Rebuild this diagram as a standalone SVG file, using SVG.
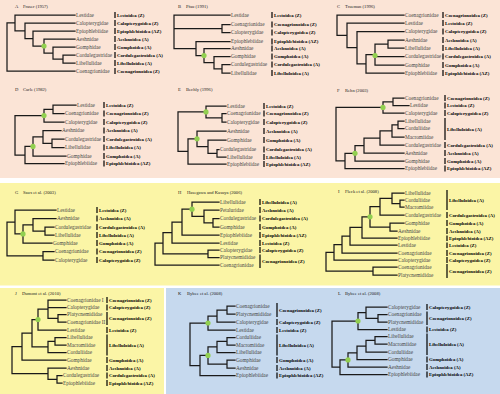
<svg xmlns="http://www.w3.org/2000/svg" width="500" height="394" viewBox="0 0 500 394">
<style>
.pk{fill:#fbe4d6}.yl{fill:#fbf5a6}.bl{fill:#c6d9ee}
.t{font-family:"Liberation Serif",serif;font-size:5.3px;fill:#474747}
.s{font-family:"Liberation Serif",serif;font-size:4.8px;font-weight:bold;fill:#000}
.h{font-family:"Liberation Serif",serif;font-size:4.6px;fill:#222}
.tree{fill:none;stroke:#1a1a1a;stroke-width:1.25;stroke-linecap:square}
.bar{fill:none;stroke:#000;stroke-width:1.2}
.dot{fill:#92d050}
</style>
<g id="backgrounds">
<rect class="pk" x="0" y="0" width="500" height="178"/>
<rect class="yl" x="0" y="183" width="500" height="102.5"/>
<rect class="yl" x="0" y="288" width="164" height="106"/>
<rect class="bl" x="166" y="288" width="334" height="106"/>
</g>
<g id="connectors">
<path id="tree-A" class="tree" d="M7 22.9V71M7 22.9H15M7 71H75M15 15V30.75M15 15H75M15 30.75H25M25 23V38.5M25 23H75M25 38.5H33M33 31V46M33 31H75M33 46H44M44 39V53M44 39H75M44 53H53M53 47V59M53 47H75M53 59H63M63 55V63M63 55H75M63 63H75"/>
<path id="tree-B" class="tree" d="M174 15V48.5M174 15H230M174 28.5H222M174 48.5H196M222 24.5V32.5M222 24.5H230M222 32.5H230M196 41.5V55.6M196 41.5H230M196 55.6H204M204 48.5V62.6M204 48.5H230M204 62.6H214M214 56.5V68.75M214 56.5H230M214 68.75H222M222 64.5V73M222 64.5H230M222 73H230"/>
<path id="tree-C" class="tree" d="M337 15V35.3M337 15H404M337 35.3H347M347 23V47.6M347 23H404M347 47.6H357M357 31.5V63.75M357 31.5H404M357 63.75H366M366 54.5V73M366 54.5H375M366 73H404M375 44V65M375 44H388M375 56.5H404M375 65H404M388 40V48M388 40H404M388 48H404"/>
<path id="tree-D" class="tree" d="M15 115.6V155M15 115.6H44M15 155H25M44 109.25V122M44 109.25H53M44 122H64M53 105V113.5M53 105H76M53 113.5H64M25 146.4V163.5M25 146.4H33M25 163.5H64M33 136.9V156M33 136.9H43M33 156H66M43 130.5V143.25M43 130.5H61M43 143.25H52M52 139V147.5M52 139H64M52 147.5H64"/>
<path id="tree-E" class="tree" d="M178 111.9V151.4M178 111.9H206M178 151.4H188M206 106V117.75M206 106H226M206 117.75H222M222 113.5V122M222 113.5H226M222 122H226M188 138.8V164M188 138.8H197M188 164H226M197 131V146.6M197 131H226M197 146.6H208M208 140V153.25M208 140H226M208 153.25H217M217 149.5V157M217 149.5H219M217 157H226"/>
<path id="tree-F" class="tree" d="M336 107.4V160.9M336 107.4H383M336 160.9H345M383 101.75V113M383 101.75H393M383 113H404M393 98V105.5M393 98H404M393 105.5H409M345 153.25V168.5M345 153.25H355M345 168.5H404M355 145.5V161M355 145.5H364M355 161H404M364 138V153M364 138H380M364 153H404M380 130.9V145M380 130.9H392M380 145H404M392 124.75V137M392 124.75H398M392 137H404M398 121V128.5M398 121H404M398 128.5H404"/>
<path id="tree-G" class="tree" d="M7 222V255.75M7 222H15M7 255.75H43M15 210V233.9M15 210H56M15 233.9H23M23 224.75V243M23 224.75H33M23 243H52M33 218.5V231M33 218.5H56M33 231H45M45 227V235M45 227H54M45 235H54M43 251.5V260M43 251.5H54M43 260H54"/>
<path id="tree-H" class="tree" d="M155 243.2V265M155 243.2H163M155 265H219M163 232.6V253.75M163 232.6H172M163 253.75H208M208 250V257.5M208 250H219M208 257.5H219M172 222.1V243M172 222.1H182M172 243H219M182 209.2V235M182 209.2H192M182 235H219M192 202V216.4M192 202H219M192 216.4H204M204 210V222.75M204 210H219M204 222.75H213M213 218.5V227M213 218.5H219M213 227H219"/>
<path id="tree-I" class="tree" d="M326 252.3V271M326 252.3H334M326 271H373M373 267V275M373 267H397M373 275H397M334 244.6V260M334 244.6H342M334 260H397M342 236.2V253M342 236.2H350M342 253H397M350 227.4V245M350 227.4H362M350 245H397M362 216.8V238M362 216.8H370M362 238H397M370 206.6V227M370 206.6H380M370 227H390M390 223V231M390 223H404M390 231H397M380 198.25V215M380 198.25H392M380 215H404M392 193V203.5M392 193H404M392 203.5H400M400 200V207M400 200H404M400 207H404"/>
<path id="tree-J" class="tree" d="M12 346.6V373.6M12 346.6H22M12 373.6H48M22 333.2V360M22 333.2H32M22 360H66M32 319.5V346.9M32 319.5H38M32 346.9H48M38 309V330M38 309H48M38 330H66M48 300V318.25M48 300H66M48 307.5H66M48 318.25H58M58 314.5V322M58 314.5H66M58 322H66M48 341.25V352.5M48 341.25H55M48 352.5H66M55 337.5V345M55 337.5H66M55 345H66M48 368V379.25M48 368H66M48 379.25H57M57 375.5V383M57 375.5H62M57 383H62"/>
<path id="tree-K" class="tree" d="M190 323V365.5M190 323H208M190 365.5H200M208 316V330M208 316H217M208 330H235M217 310V322M217 310H227M217 322H235M227 306V314M227 306H235M227 314H235M200 355.4V375.5M200 355.4H208M200 375.5H235M208 346.9V364M208 346.9H217M208 364H227M227 360V368M227 360H235M227 368H235M217 341.25V352.5M217 341.25H227M217 352.5H235M227 337.5V345M227 337.5H235M227 345H235"/>
<path id="tree-L" class="tree" d="M332 321V367.2M332 321H358M332 367.2H340M358 312.6V329.5M358 312.6H366M358 329.5H387M366 307V318.25M366 307H387M366 318.25H378M378 314.5V322M378 314.5H387M378 322H387M340 359.9V374.5M340 359.9H348M340 374.5H387M348 352.8V367M348 352.8H357M348 367H387M357 346.1V359.5M357 346.1H366M357 359.5H387M366 340.25V352M366 340.25H375M366 352H387M375 336.5V344M375 336.5H387M375 344H387"/>
</g>
<g id="node-markers">
<circle class="dot" cx="44" cy="46" r="2.6"/>
<circle class="dot" cx="204" cy="55.6" r="2.6"/>
<circle class="dot" cx="375" cy="55.5" r="2.6"/>
<circle class="dot" cx="44" cy="115.6" r="2.6"/>
<circle class="dot" cx="33" cy="146.4" r="2.6"/>
<circle class="dot" cx="206" cy="111.9" r="2.6"/>
<circle class="dot" cx="197" cy="138.8" r="2.6"/>
<circle class="dot" cx="383" cy="107.4" r="2.6"/>
<circle class="dot" cx="355" cy="153.25" r="2.6"/>
<circle class="dot" cx="23" cy="233.9" r="2.6"/>
<circle class="dot" cx="192" cy="209.2" r="2.6"/>
<circle class="dot" cx="370" cy="216.8" r="2.6"/>
<circle class="dot" cx="38" cy="319.5" r="2.6"/>
<circle class="dot" cx="208" cy="323" r="2.6"/>
<circle class="dot" cx="208" cy="355.4" r="2.6"/>
<circle class="dot" cx="358" cy="321" r="2.6"/>
<circle class="dot" cx="348" cy="359.9" r="2.6"/>
</g>
<g id="brackets">
<path class="bar" d="M115 12V18M115 20V26M115 28V34M115 36V42M115 44V50M115 52V58M115 60V66M115 68V74"/>
<path class="bar" d="M272 12V18M272 21.5V27.5M272 29.5V35.5M272 38.5V44.5M272 45.5V51.5M272 53.5V59.5M272 61.5V67.5M272 70V76"/>
<path class="bar" d="M443 12V18M443 20V26M443 28.5V34.5M443 37V43M443 45V51M443 53.5V59.5M443 62V68M443 70V76"/>
<path class="bar" d="M104 102V108M104 110.5V116.5M104 119V125M104 127.5V133.5M104 136V142M104 144.5V150.5M104 153V159M104 160.5V166.5"/>
<path class="bar" d="M264 103V109M264 110.5V116.5M264 119V125M264 128V134M264 137V143M264 146.5V152.5M264 154V160M264 161V167"/>
<path class="bar" d="M445 95V101M445 102.5V108.5M445 110V116M445 118V140M445 142V148M445 150V156M445 158V164M445 165.5V171.5"/>
<path class="bar" d="M97 207V213M97 215.5V221.5M97 224V230M97 232V238M97 240V246M97 248.5V254.5M97 257V263"/>
<path class="bar" d="M260 199V205M260 207V213M260 215.5V221.5M260 224V230M260 232V238M260 240V246M260 247V253M260 254.5V268"/>
<path class="bar" d="M447 190V210M447 212V218M447 220V226M447 228V234M447 235.5V241M447 242.5V248M447 250V256M447 257V263M447 264V278"/>
<path class="bar" d="M107 297V303M107 304.5V310.5M107 312V325M107 327V333M107 334.5V355.5M107 357V363M107 365V371M107 372.5V378.5M107 380V386"/>
<path class="bar" d="M277 303V317M277 319V325M277 327V333M277 334.5V355.5M277 357V363M277 365V371M277 372.5V378.5"/>
<path class="bar" d="M427 304V310M427 311.5V325M427 326.5V332.5M427 333.5V355M427 356.5V362.5M427 364V370M427 371.5V377.5"/>
</g>
<g id="panel-A">
<text class="h" x="15" y="7.8">A</text><text class="h" x="23" y="7.8">Fraser (1957)</text>
<g id="A1"><text class="t" x="76" y="16.8">Lestidae</text><text class="s" x="117" y="16.6">Lestoidea (Z)</text></g>
<g id="A2"><text class="t" x="76" y="24.8">Calopterygidae</text><text class="s" x="117" y="24.6">Calopterygoidea (Z)</text></g>
<g id="A3"><text class="t" x="76" y="32.8">Epiophlebiidae</text><text class="s" x="117" y="32.6">Epiophlebioidea (AZ)</text></g>
<g id="A4"><text class="t" x="76" y="40.8">Aeshnidae</text><text class="s" x="117" y="40.6">Aeshnoidea (A)</text></g>
<g id="A5"><text class="t" x="76" y="48.8">Gomphidae</text><text class="s" x="117" y="48.6">Gomphoidea (A)</text></g>
<g id="A6"><text class="t" x="76" y="56.8">Cordulegastridae</text><text class="s" x="117" y="56.6">Cordulegastroidea (A)</text></g>
<g id="A7"><text class="t" x="76" y="64.8">Libellulidae</text><text class="s" x="117" y="64.6">Libelluloidea (A)</text></g>
<g id="A8"><text class="t" x="76" y="72.8">Coenagrionidae</text><text class="s" x="117" y="72.6">Coenagrionoidea (Z)</text></g>
</g>
<g id="panel-B">
<text class="h" x="178" y="7.8">B</text><text class="h" x="186" y="7.8">Pfau (1991)</text>
<g id="B1"><text class="t" x="231" y="16.8">Lestidae</text><text class="s" x="274" y="16.6">Lestoidea (Z)</text></g>
<g id="B2"><text class="t" x="231" y="26.3">Coenagrionidae</text><text class="s" x="274" y="26.1">Coenagrionoidea (Z)</text></g>
<g id="B3"><text class="t" x="231" y="34.3">Calopterygidae</text><text class="s" x="274" y="34.1">Calopterygoidea (Z)</text></g>
<g id="B4"><text class="t" x="231" y="43.3">Epiophlebiidae</text><text class="s" x="274" y="43.1">Epiophlebioidea (AZ)</text></g>
<g id="B5"><text class="t" x="231" y="50.3">Aeshnidae</text><text class="s" x="274" y="50.1">Aeshnoidea (A)</text></g>
<g id="B6"><text class="t" x="231" y="58.3">Gomphidae</text><text class="s" x="274" y="58.1">Gomphoidea (A)</text></g>
<g id="B7"><text class="t" x="231" y="66.3">Cordulegastridae</text><text class="s" x="274" y="66.1">Cordulegastroidea (A)</text></g>
<g id="B8"><text class="t" x="231" y="74.8">Libellulidae</text><text class="s" x="274" y="74.6">Libelluloidea (A)</text></g>
</g>
<g id="panel-C">
<text class="h" x="337" y="7.8">C</text><text class="h" x="345" y="7.8">Trueman (1996)</text>
<g id="C1"><text class="t" x="405" y="16.8">Coenagrionidae</text><text class="s" x="445" y="16.6">Coenagrionoidea (Z)</text></g>
<g id="C2"><text class="t" x="405" y="24.8">Lestidae</text><text class="s" x="445" y="24.6">Lestoidea (Z)</text></g>
<g id="C3"><text class="t" x="405" y="33.3">Calopterygidae</text><text class="s" x="445" y="33.1">Calopterygoidea (Z)</text></g>
<g id="C4"><text class="t" x="405" y="41.8">Aeshnidae</text><text class="s" x="445" y="41.6">Aeshnoidea (A)</text></g>
<g id="C5"><text class="t" x="405" y="49.8">Libellulidae</text><text class="s" x="445" y="49.6">Libelluloidea (A)</text></g>
<g id="C6"><text class="t" x="405" y="58.3">Cordulegastridae</text><text class="s" x="445" y="58.1">Cordulegastroidea (A)</text></g>
<g id="C7"><text class="t" x="405" y="66.8">Gomphidae</text><text class="s" x="445" y="66.6">Gomphoidea (A)</text></g>
<g id="C8"><text class="t" x="405" y="74.8">Epiophlebiidae</text><text class="s" x="445" y="74.6">Epiophlebioidea (AZ)</text></g>
</g>
<g id="panel-D">
<text class="h" x="15" y="90.7">D</text><text class="h" x="23" y="90.7">Carle (1982)</text>
<g id="D1"><text class="t" x="77" y="106.8">Lestidae</text><text class="s" x="106" y="106.6">Lestoidea (Z)</text></g>
<g id="D2"><text class="t" x="65" y="115.3">Coenagrionidae</text><text class="s" x="106" y="115.1">Coenagrionoidea (Z)</text></g>
<g id="D3"><text class="t" x="65" y="123.8">Calopterygidae</text><text class="s" x="106" y="123.6">Calopterygoidea (Z)</text></g>
<g id="D4"><text class="t" x="62" y="132.3">Aeshnidae</text><text class="s" x="106" y="132.1">Aeshnoidea (A)</text></g>
<g id="D5"><text class="t" x="65" y="140.8">Cordulegastridae</text><text class="s" x="106" y="140.6">Cordulegastroidea (A)</text></g>
<g id="D6"><text class="t" x="65" y="149.3">Libellulidae</text><text class="s" x="106" y="149.1">Libelluloidea (A)</text></g>
<g id="D7"><text class="t" x="67" y="157.8">Gomphidae</text><text class="s" x="106" y="157.6">Gomphoidea (A)</text></g>
<g id="D8"><text class="t" x="65" y="165.3">Epiophlebiidae</text><text class="s" x="106" y="165.1">Epiophlebioidea (AZ)</text></g>
</g>
<g id="panel-E">
<text class="h" x="178" y="90.7">E</text><text class="h" x="186" y="90.7">Bechly (1996)</text>
<g id="E1"><text class="t" x="227" y="107.8">Lestidae</text><text class="s" x="266" y="107.6">Lestoidea (Z)</text></g>
<g id="E2"><text class="t" x="227" y="115.3">Coenagrionidae</text><text class="s" x="266" y="115.1">Coenagrionoidea (Z)</text></g>
<g id="E3"><text class="t" x="227" y="123.8">Calopterygidae</text><text class="s" x="266" y="123.6">Calopterygoidea (Z)</text></g>
<g id="E4"><text class="t" x="227" y="132.8">Aeshnidae</text><text class="s" x="266" y="132.6">Aeshnoidea (A)</text></g>
<g id="E5"><text class="t" x="227" y="141.8">Gomphidae</text><text class="s" x="266" y="141.6">Gomphoidea (A)</text></g>
<g id="E6"><text class="t" x="220" y="151.3">Cordulegastridae</text><text class="s" x="266" y="151.1">Cordulegastroidea (A)</text></g>
<g id="E7"><text class="t" x="227" y="158.8">Libellulidae</text><text class="s" x="266" y="158.6">Libelluloidea (A)</text></g>
<g id="E8"><text class="t" x="227" y="165.8">Epiophlebiidae</text><text class="s" x="266" y="165.6">Epiophlebioidea (AZ)</text></g>
</g>
<g id="panel-F">
<text class="h" x="337" y="91.5">F</text><text class="h" x="345" y="91.5">Rehn (2003)</text>
<g id="F1"><text class="t" x="405" y="99.8">Coenagrionidae</text><text class="s" x="447" y="99.6">Coenagrionoidea (Z)</text></g>
<g id="F2"><text class="t" x="410" y="107.3">Lestidae</text><text class="s" x="447" y="107.1">Lestoidea (Z)</text></g>
<g id="F3"><text class="t" x="405" y="114.8">Calopterygidae</text><text class="s" x="447" y="114.6">Calopterygoidea (Z)</text></g>
<g id="F4"><text class="t" x="405" y="122.8">Libellulidae</text></g>
<g id="F5"><text class="t" x="405" y="130.3">Corduliidae</text><text class="s" x="447" y="130.6">Libelluloidea (A)</text></g>
<g id="F6"><text class="t" x="405" y="138.8">Macromiidae</text></g>
<g id="F7"><text class="t" x="405" y="146.8">Cordulegastridae</text><text class="s" x="447" y="146.6">Cordulegastroidea (A)</text></g>
<g id="F8"><text class="t" x="405" y="154.8">Aeshnidae</text><text class="s" x="447" y="154.6">Aeshnoidea (A)</text></g>
<g id="F9"><text class="t" x="405" y="162.8">Gomphidae</text><text class="s" x="447" y="162.6">Gomphoidea (A)</text></g>
<g id="F10"><text class="t" x="405" y="170.3">Epiophlebiidae</text><text class="s" x="447" y="170.1">Epiophlebioidea (AZ)</text></g>
</g>
<g id="panel-G">
<text class="h" x="15" y="193.7">G</text><text class="h" x="23" y="193.7">Saux et al. (2003)</text>
<g id="G1"><text class="t" x="57" y="211.8">Lestidae</text><text class="s" x="99" y="211.6">Lestoidea (Z)</text></g>
<g id="G2"><text class="t" x="57" y="220.3">Aeshnidae</text><text class="s" x="99" y="220.1">Aeshnoidea (A)</text></g>
<g id="G3"><text class="t" x="55" y="228.8">Cordulegastridae</text><text class="s" x="99" y="228.6">Cordulegastroidea (A)</text></g>
<g id="G4"><text class="t" x="55" y="236.8">Libellulidae</text><text class="s" x="99" y="236.6">Libelluloidea (A)</text></g>
<g id="G5"><text class="t" x="53" y="244.8">Gomphidae</text><text class="s" x="99" y="244.6">Gomphoidea (A)</text></g>
<g id="G6"><text class="t" x="55" y="253.3">Coenagrionidae</text><text class="s" x="99" y="253.1">Coenagrionoidea (Z)</text></g>
<g id="G7"><text class="t" x="55" y="261.8">Calopterygidae</text><text class="s" x="99" y="261.6">Calopterygoidea (Z)</text></g>
</g>
<g id="panel-H">
<text class="h" x="178" y="193.7">H</text><text class="h" x="187" y="193.7">Hasegawa and Kasuya (2006)</text>
<g id="H1"><text class="t" x="220" y="203.8">Libellulidae</text><text class="s" x="262" y="203.6">Libelluloidea (A)</text></g>
<g id="H2"><text class="t" x="220" y="211.8">Petaluridae</text><text class="s" x="262" y="211.6">Aeshnoidea (A)</text></g>
<g id="H3"><text class="t" x="220" y="220.3">Cordulegastridae</text><text class="s" x="262" y="220.1">Cordulegastroidea (A)</text></g>
<g id="H4"><text class="t" x="220" y="228.8">Gomphidae</text><text class="s" x="262" y="228.6">Gomphoidea (A)</text></g>
<g id="H5"><text class="t" x="220" y="236.8">Epiophlebiidae</text><text class="s" x="262" y="236.6">Epiophlebioidea (AZ)</text></g>
<g id="H6"><text class="t" x="220" y="244.8">Lestidae</text><text class="s" x="262" y="244.6">Lestoidea (Z)</text></g>
<g id="H7"><text class="t" x="220" y="251.8">Calopterygidae</text><text class="s" x="262" y="251.6">Calopterygoidea (Z)</text></g>
<g id="H8"><text class="t" x="220" y="259.3">Platycnemididae</text><text class="s" x="262" y="262.9">Coenagrionoidea (Z)</text></g>
<g id="H9"><text class="t" x="220" y="266.8">Coenagrionidae</text></g>
</g>
<g id="panel-I">
<text class="h" x="338" y="192.7">I</text><text class="h" x="345" y="192.7">Fleck et al. (2008)</text>
<g id="I1"><text class="t" x="405" y="194.8">Libellulidae</text></g>
<g id="I2"><text class="t" x="405" y="201.8">Corduliidae</text><text class="s" x="449" y="201.6">Libelluloidea (A)</text></g>
<g id="I3"><text class="t" x="405" y="208.8">Macromiidae</text></g>
<g id="I4"><text class="t" x="405" y="216.8">Cordulegastridae</text><text class="s" x="449" y="216.6">Cordulegastroidea (A)</text></g>
<g id="I5"><text class="t" x="405" y="224.8">Gomphidae</text><text class="s" x="449" y="224.6">Gomphoidea (A)</text></g>
<g id="I6"><text class="t" x="398" y="232.8">Aeshnidae</text><text class="s" x="449" y="232.6">Aeshnoidea (A)</text></g>
<g id="I7"><text class="t" x="398" y="239.8">Epiophlebiidae</text><text class="s" x="449" y="239.6">Epiophlebioidea (AZ)</text></g>
<g id="I8"><text class="t" x="398" y="246.8">Lestidae</text><text class="s" x="449" y="246.6">Lestoidea (Z)</text></g>
<g id="I9"><text class="t" x="398" y="254.8">Coenagrionidae</text><text class="s" x="449" y="254.6">Coenagrionoidea (Z)</text></g>
<g id="I10"><text class="t" x="398" y="261.8">Calopterygidae</text><text class="s" x="449" y="261.6">Calopterygoidea (Z)</text></g>
<g id="I11"><text class="t" x="398" y="268.8">Coenagrionidae</text><text class="s" x="449" y="272.6">Coenagrionoidea (Z)</text></g>
<g id="I12"><text class="t" x="398" y="276.8">Platycnemididae</text></g>
</g>
<g id="panel-J">
<text class="h" x="15" y="294.7">J</text><text class="h" x="22" y="294.7">Dumont et al. (2010)</text>
<g id="J1"><text class="t" x="67" y="301.8">Coenagrionidae I</text><text class="s" x="109" y="301.6">Coenagrionoidea (Z)</text></g>
<g id="J2"><text class="t" x="67" y="309.3">Calopterygidae</text><text class="s" x="109" y="309.1">Calopterygoidea (Z)</text></g>
<g id="J3"><text class="t" x="67" y="316.3">Platycnemididae</text><text class="s" x="109" y="319.9">Coenagrionoidea (Z)</text></g>
<g id="J4"><text class="t" x="67" y="323.8">Coenagrionidae II</text></g>
<g id="J5"><text class="t" x="67" y="331.8">Lestidae</text><text class="s" x="109" y="331.6">Lestoidea (Z)</text></g>
<g id="J6"><text class="t" x="67" y="339.3">Libellulidae</text></g>
<g id="J7"><text class="t" x="67" y="346.8">Macromiidae</text><text class="s" x="109" y="346.6">Libelluloidea (A)</text></g>
<g id="J8"><text class="t" x="67" y="354.3">Corduliidae</text></g>
<g id="J9"><text class="t" x="67" y="361.8">Gomphidae</text><text class="s" x="109" y="361.6">Gomphoidea (A)</text></g>
<g id="J10"><text class="t" x="67" y="369.8">Aeshnidae</text><text class="s" x="109" y="369.6">Aeshnoidea (A)</text></g>
<g id="J11"><text class="t" x="63" y="377.3">Cordulegastridae</text><text class="s" x="109" y="377.1">Cordulegastroidea (A)</text></g>
<g id="J12"><text class="t" x="63" y="384.8">Epiophlebiidae</text><text class="s" x="109" y="384.6">Epiophlebioidea (AZ)</text></g>
</g>
<g id="panel-K">
<text class="h" x="178" y="294.7">K</text><text class="h" x="187" y="294.7">Bybee et al. (2008)</text>
<g id="K1"><text class="t" x="236" y="307.8">Coenagrionidae</text><text class="s" x="279" y="311.6">Coenagrionoidea (Z)</text></g>
<g id="K2"><text class="t" x="236" y="315.8">Platycnemididae</text></g>
<g id="K3"><text class="t" x="236" y="323.8">Calopterygidae</text><text class="s" x="279" y="323.6">Calopterygoidea (Z)</text></g>
<g id="K4"><text class="t" x="236" y="331.8">Lestidae</text><text class="s" x="279" y="331.6">Lestoidea (Z)</text></g>
<g id="K5"><text class="t" x="236" y="339.3">Corduliidae</text></g>
<g id="K6"><text class="t" x="236" y="346.8">Macromiidae</text><text class="s" x="279" y="346.6">Libelluloidea (A)</text></g>
<g id="K7"><text class="t" x="236" y="354.3">Libellulidae</text></g>
<g id="K8"><text class="t" x="236" y="361.8">Gomphidae</text><text class="s" x="279" y="361.6">Gomphoidea (A)</text></g>
<g id="K9"><text class="t" x="236" y="369.8">Aeshnidae</text><text class="s" x="279" y="369.6">Aeshnoidea (A)</text></g>
<g id="K10"><text class="t" x="236" y="377.3">Epiophlebiidae</text><text class="s" x="279" y="377.1">Epiophlebioidea (AZ)</text></g>
</g>
<g id="panel-L">
<text class="h" x="338" y="295">L</text><text class="h" x="345" y="295">Bybee et al. (2008)</text>
<g id="L1"><text class="t" x="388" y="308.8">Calopterygidae</text><text class="s" x="429" y="308.6">Calopterygoidea (Z)</text></g>
<g id="L2"><text class="t" x="388" y="316.3">Coenagrionidae</text><text class="s" x="429" y="319.9">Coenagrionoidea (Z)</text></g>
<g id="L3"><text class="t" x="388" y="323.8">Platycnemididae</text></g>
<g id="L4"><text class="t" x="388" y="331.3">Lestidae</text><text class="s" x="429" y="331.1">Lestoidea (Z)</text></g>
<g id="L5"><text class="t" x="388" y="338.3">Libellulidae</text></g>
<g id="L6"><text class="t" x="388" y="345.8">Macromiidae</text><text class="s" x="429" y="345.6">Libelluloidea (A)</text></g>
<g id="L7"><text class="t" x="388" y="353.8">Corduliidae</text></g>
<g id="L8"><text class="t" x="388" y="361.3">Gomphidae</text><text class="s" x="429" y="361.1">Gomphoidea (A)</text></g>
<g id="L9"><text class="t" x="388" y="368.8">Aeshnidae</text><text class="s" x="429" y="368.6">Aeshnoidea (A)</text></g>
<g id="L10"><text class="t" x="388" y="376.3">Epiophlebiidae</text><text class="s" x="429" y="376.1">Epiophlebioidea (AZ)</text></g>
</g>
</svg>
